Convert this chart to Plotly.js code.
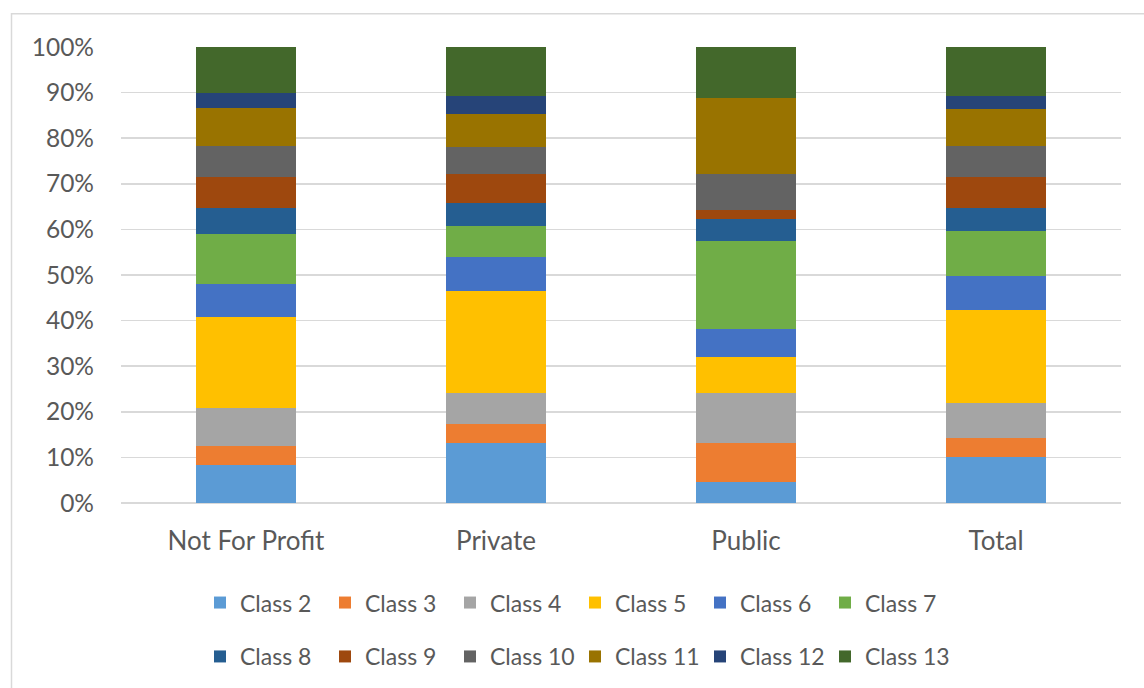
<!DOCTYPE html>
<html>
<head>
<meta charset="utf-8">
<script src="https://cdn.plot.ly/plotly-3.0.1.min.js"></script>
<style>html,body{margin:0;padding:0;background:#fff;}#chart{width:1144px;height:688px;}</style>
</head>
<body>
<div id="chart"></div>
<script>
var categories = ["Not For Profit", "Private", "Public", "Total"];
var seriesNames = ["Class 2","Class 3","Class 4","Class 5","Class 6","Class 7","Class 8","Class 9","Class 10","Class 11","Class 12","Class 13"];
var class2  = [8.4, 13.1, 4.7, 10.0];
var class3  = [4.2, 4.2, 8.4, 4.2];
var class4  = [8.3, 6.8, 11.0, 7.8];
var class5  = [19.9, 22.5, 7.9, 20.4];
var class6  = [7.3, 7.3, 6.2, 7.3];
var class7  = [11.0, 6.8, 19.3, 10.0];
var class8  = [5.7, 5.2, 4.7, 5.1];
var class9  = [6.8, 6.2, 2.1, 6.8];
var class10 = [6.8, 5.9, 7.8, 6.8];
var class11 = [8.3, 7.2, 16.8, 8.0];
var class12 = [3.2, 4.1, 0.0, 2.9];
var class13 = [10.1, 10.7, 11.1, 10.7];
var seriesValues = [class2, class3, class4, class5, class6, class7, class8, class9, class10, class11, class12, class13];
var colors = ["#5B9BD5","#ED7D31","#A5A5A5","#FFC000","#4472C4","#70AD47","#255E91","#9E480E","#636363","#997300","#264478","#43682B"];

var font = "Lato, 'Liberation Sans', sans-serif";
var textColor = "#595959";

var traces = seriesNames.map(function (name, i) {
  return {
    type: "bar",
    name: name,
    x: categories,
    y: seriesValues[i],
    marker: { color: colors[i], line: { width: 0 } },
    legend: i < 6 ? "legend" : "legend2",
    hoverinfo: "x+y+name"
  };
});

var legendCommon = {
  orientation: "h",
  xref: "paper", yref: "paper",
  xanchor: "left", yanchor: "middle",
  x: 0.079,
  traceorder: "normal",
  entrywidth: 80,
  entrywidthmode: "pixels",
  font: { family: font, size: 23, color: textColor },
  bgcolor: "rgba(0,0,0,0)"
};

var layout = {
  width: 1144,
  height: 688,
  margin: { l: 121, r: 23, t: 46.7, b: 184.7, autoexpand: false },
  paper_bgcolor: "#ffffff",
  plot_bgcolor: "#ffffff",
  barmode: "stack",
  barnorm: "percent",
  bargap: 0.6,
  font: { family: font, color: textColor },
  xaxis: {
    type: "category",
    showgrid: false,
    showline: false,
    zeroline: false,
    ticks: "",
    ticklabelstandoff: 20,
    tickfont: { family: font, size: 26, color: textColor }
  },
  yaxis: {
    range: [0, 100],
    dtick: 10,
    ticksuffix: "%",
    showgrid: true,
    gridcolor: "#d9d9d9",
    gridwidth: 1.5,
    zeroline: true,
    zerolinecolor: "#d9d9d9",
    zerolinewidth: 1.5,
    showline: false,
    ticks: "",
    ticklabelstandoff: 26,
    tickfont: { family: font, size: 24.5, color: textColor }
  },
  legend: Object.assign({}, legendCommon, { y: -0.2184 }),
  legend2: Object.assign({}, legendCommon, { y: -0.3366 }),
  shapes: [{
    type: "rect", xref: "paper", yref: "paper",
    x0: -0.1095, x1: 1.06, y0: -0.5, y1: 1.0727,
    line: { color: "#d9d9d9", width: 1.5 },
    fillcolor: "rgba(0,0,0,0)",
    layer: "below"
  }],
  showlegend: true
};

Plotly.newPlot("chart", traces, layout, { displayModeBar: false, staticPlot: true });
</script>
</body>
</html>
